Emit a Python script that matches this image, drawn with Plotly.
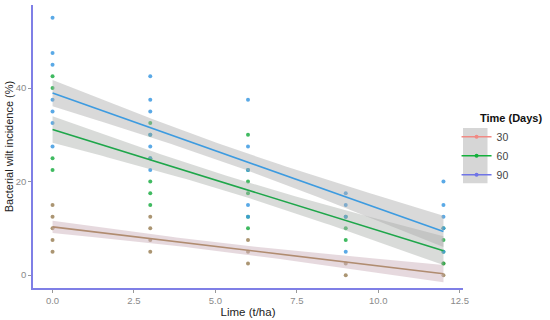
import numpy as np
import plotly.graph_objects as go

# ---- data ----
lime_30 = [0, 0, 0, 0, 0, 3, 3, 3, 3, 6, 6, 6, 9, 9, 12, 12]
inc_30 = [15, 12.5, 10, 7.5, 5, 12.5, 10, 7.5, 5, 7.5, 5, 2.5, 2.5, 0, 2.5, 0]

lime_60 = [0, 0, 0, 0, 3, 3, 3, 3, 3, 3, 6, 6, 6, 6, 6, 6, 9, 9, 9, 12, 12, 12, 12]
inc_60 = [42.5, 40, 25, 22.5, 32.5, 30, 25, 20, 17.5, 15,
          30, 22.5, 20, 17.5, 12.5, 10, 12.5, 10, 7.5, 10, 7.5, 5, 2.5]

lime_90 = [0, 0, 0, 0, 0, 0, 0, 3, 3, 3, 3, 3, 3, 3, 6, 6, 6, 6, 6,
           9, 9, 9, 9, 12, 12, 12, 12, 12]
inc_90 = [55, 47.5, 45, 37.5, 35, 32.5, 27.5, 42.5, 37.5, 35, 30, 27.5, 25, 22.5,
          37.5, 27.5, 22.5, 15, 12.5, 17.5, 15, 12.5, 5, 20, 15, 12.5, 10, 5]

groups = ["30", "60", "90"]
x_ticks = [0, 2.5, 5, 7.5, 10, 12.5]
x_tick_labels = ["0.0", "2.5", "5.0", "7.5", "10.0", "12.5"]
y_ticks = [0, 20, 40]

# ---- styles ----
FONT = "Liberation Sans"
point_colors = {"30": "#9c8259", "60": "#1fae45", "90": "#3d9ae2"}
line_colors = {"30": "#b08c70", "60": "#1ea64a", "90": "#3d9be0"}
legend_colors = {"30": "#f08a84", "60": "#14b03c", "90": "#6f74e6"}
ribbon_colors = {"30": "rgba(205,180,190,0.5)", "60": "rgba(170,175,170,0.45)",
                 "90": "rgba(170,170,170,0.45)"}
band_width_factor = 1.2  # visual half-width multiplier of the standard error

data = {"30": (lime_30, inc_30), "60": (lime_60, inc_60), "90": (lime_90, inc_90)}


def lm_fit(x, y, grid, k):
    x = np.asarray(x, float)
    y = np.asarray(y, float)
    X = np.column_stack([np.ones_like(x), x])
    beta, *_ = np.linalg.lstsq(X, y, rcond=None)
    resid = y - X @ beta
    n = len(x)
    s2 = resid @ resid / (n - 2)
    cov = s2 * np.linalg.inv(X.T @ X)
    G = np.column_stack([np.ones_like(grid), grid])
    fit = G @ beta
    se = np.sqrt(np.einsum("ij,jk,ik->i", G, cov, G))
    return fit, fit - k * se, fit + k * se


fig = go.Figure()

# points
for g in groups:
    xs, ys = data[g]
    fig.add_trace(go.Scatter(x=xs, y=ys, mode="markers",
                             marker=dict(size=4, color=point_colors[g], opacity=0.85),
                             showlegend=False, hoverinfo="skip"))

fits = {}
for g in groups:
    xs, ys = data[g]
    grid = np.linspace(min(xs), max(xs), 80)
    fits[g] = (grid,) + lm_fit(xs, ys, grid, band_width_factor)

# ribbons
for g in groups:
    grid, fit, lo, hi = fits[g]
    fig.add_trace(go.Scatter(x=np.concatenate([grid, grid[::-1]]),
                             y=np.concatenate([hi, lo[::-1]]),
                             fill="toself", fillcolor=ribbon_colors[g],
                             line=dict(width=0), mode="lines",
                             showlegend=False, hoverinfo="skip"))
# fitted lines
for g in groups:
    grid, fit, lo, hi = fits[g]
    fig.add_trace(go.Scatter(x=grid, y=fit, mode="lines",
                             line=dict(color=line_colors[g], width=1.6),
                             showlegend=False))

# legend entries
for g in groups:
    fig.add_trace(go.Scatter(x=[None], y=[None], mode="lines+markers", name=g,
                             line=dict(color=legend_colors[g], width=1.5),
                             marker=dict(color=legend_colors[g], size=4)))

axis_line = "#7f7fe6"
fig.update_xaxes(range=[-0.6, 12.6], tickvals=x_ticks, ticktext=x_tick_labels,
                 showgrid=False, zeroline=False, showline=True, linecolor=axis_line,
                 linewidth=1.5, ticks="outside", ticklen=3, tickcolor="#999999",
                 tickfont=dict(family=FONT, size=9.5, color="#8a8a8a"),
                 title=dict(text="Lime (t/ha)", standoff=0,
                            font=dict(family=FONT, size=11.5, color="#222222")))
fig.update_yaxes(range=[-2.75, 57.75], tickvals=y_ticks,
                 showgrid=False, zeroline=False, showline=True, linecolor=axis_line,
                 linewidth=1.5, ticks="outside", ticklen=3, tickcolor="#999999",
                 tickfont=dict(family=FONT, size=9.5, color="#8a8a8a"),
                 title=dict(text="Bacterial wilt incidence (%)", standoff=0,
                            font=dict(family=FONT, size=11, color="#222222")))

# grey legend-key background (as ggplot draws for smoothed series)
fig.add_shape(type="rect", xref="paper", yref="paper",
              x0=1.0, x1=1.057, y0=0.37, y1=0.565,
              fillcolor="#d6d6d6", line=dict(width=0), layer="below")

fig.update_layout(
    width=550, height=320,
    margin=dict(l=33, r=84, t=5, b=32),
    plot_bgcolor="white", paper_bgcolor="white",
    legend=dict(x=0.985, y=0.636, xanchor="left", yanchor="top",
                title=dict(text="&nbsp;&nbsp;&nbsp;&nbsp;&nbsp;&nbsp;&nbsp;<b>Time (Days)</b>",
                           font=dict(family=FONT, size=11, color="#111111")),
                font=dict(family=FONT, size=10.5, color="#444444"),
                itemwidth=30, tracegroupgap=0, bgcolor="rgba(0,0,0,0)"),
)

fig.write_html("out.html", post_script="document.body.style.margin='0';",
               config={"displayModeBar": False})
